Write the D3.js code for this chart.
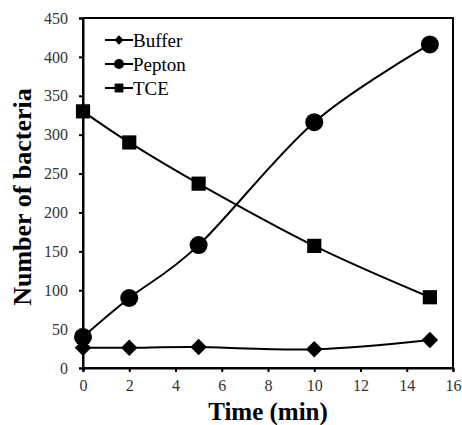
<!doctype html>
<html lang="en">
<head>
  <meta charset="utf-8">
  <title>Number of bacteria</title>
  <script src="https://cdnjs.cloudflare.com/ajax/libs/d3/7.8.5/d3.min.js"></script>
  <style>
    body { margin: 0; background: #fff; }
    svg text { font-family: "Liberation Serif", "Times New Roman", serif; }
  </style>
</head>
<body>
  <div id="chart"></div>
  <script>

// data
var times = [0, 2, 5, 10, 15];
var buffer = [26, 26, 27, 24, 36];
var pepton = [40, 90, 158, 316, 416];
var tce = [330, 290, 237, 157, 91];
var xTicks = [0, 2, 4, 6, 8, 10, 12, 14, 16];
var yTicks = [0, 50, 100, 150, 200, 250, 300, 350, 400, 450];

var margin = {top: 18, right: 9, bottom: 57, left: 83},
    width = 462 - margin.left - margin.right,
    height = 425 - margin.top - margin.bottom;

var svg = d3.select("#chart")
  .append("svg")
    .attr("width", 462)
    .attr("height", 425)
  .append("g")
    .attr("transform", "translate(" + margin.left + "," + margin.top + ")");

var x = d3.scaleLinear().domain([0, 16]).range([0, width]);
var y = d3.scaleLinear().domain([0, 450]).range([height, 0]);

// frame
svg.append("rect")
  .attr("width", width)
  .attr("height", height)
  .attr("fill", "none")
  .attr("stroke", "#000")
  .attr("stroke-width", 2);

var xAxis = svg.append("g")
  .attr("transform", "translate(0," + height + ")")
  .call(d3.axisBottom(x).tickValues(xTicks).tickSize(4).tickPadding(8));
var yAxis = svg.append("g")
  .call(d3.axisLeft(y).tickValues(yTicks).tickSize(4).tickPadding(11));

[xAxis, yAxis].forEach(function(a) {
  a.attr("font-family", "Liberation Serif, serif").attr("font-size", 16);
  a.select(".domain").attr("stroke-width", 2);
  a.selectAll(".tick line").attr("stroke-width", 2);
  a.selectAll("text").attr("fill", "#333");
});

svg.append("text")
  .attr("x", width / 2)
  .attr("y", height + 52)
  .attr("text-anchor", "middle")
  .attr("font-size", 25)
  .attr("font-weight", "bold")
  .text("Time (min)");

svg.append("text")
  .attr("transform", "translate(-52," + (height / 2 + 4) + ")rotate(-90)")
  .attr("text-anchor", "middle")
  .attr("font-size", 26)
  .attr("font-weight", "bold")
  .text("Number of bacteria");

var series = [
  {name: "Buffer", values: buffer, symbol: d3.symbolDiamond2, size: 175, small: 55},
  {name: "Pepton", values: pepton, symbol: d3.symbolCircle, size: 254, small: 80},
  {name: "TCE", values: tce, symbol: d3.symbolSquare2, size: 256, small: 100}
];

var line = d3.line()
  .x(function(d) { return x(d[0]); })
  .y(function(d) { return y(d[1]); })
  .curve(d3.curveCardinal.tension(0));

series.forEach(function(s) {
  var pts = times.map(function(t, i) { return [t, s.values[i]]; });
  svg.append("path")
    .datum(pts)
    .attr("d", line)
    .attr("fill", "none")
    .attr("stroke", "#000")
    .attr("stroke-width", 2);
  svg.selectAll(null)
    .data(pts)
    .enter()
    .append("path")
      .attr("transform", function(d) { return "translate(" + x(d[0]) + "," + y(d[1]) + ")"; })
      .attr("d", d3.symbol().type(s.symbol).size(s.size))
      .attr("fill", "#000");
});

// legend
var legend = svg.append("g").attr("transform", "translate(22,22)");
series.forEach(function(s, i) {
  var g = legend.append("g").attr("transform", "translate(0," + (i * 24) + ")");
  g.append("line")
    .attr("x1", 0).attr("x2", 28)
    .attr("stroke", "#000").attr("stroke-width", 2);
  g.append("path")
    .attr("transform", "translate(14,0)")
    .attr("d", d3.symbol().type(s.symbol).size(s.small))
    .attr("fill", "#000");
  g.append("text")
    .attr("x", 28)
    .attr("dy", "0.35em")
    .attr("font-size", 19)
    .text(s.name);
});

  </script>
</body>
</html>
